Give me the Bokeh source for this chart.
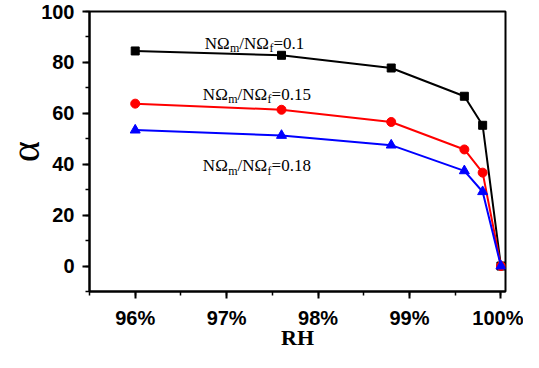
from bokeh.plotting import figure
from bokeh.models import FixedTicker, Range1d, Label
from bokeh.embed import file_html
from bokeh.resources import INLINE

rh = [96.0, 97.6, 98.8, 99.6, 99.8, 100.0]
alpha_01 = [84.5, 82.8, 77.8, 66.7, 55.3, 0.0]
alpha_015 = [63.8, 61.4, 56.6, 45.8, 36.7, 0.0]
alpha_018 = [53.4, 51.3, 47.5, 37.4, 29.2, 0.0]
x_ticks = [96, 97, 98, 99, 100]
x_tick_labels = ["96%", "97%", "98%", "99%", "100%"]
y_ticks = [0, 20, 40, 60, 80, 100]
series_labels = ["0.1", "0.15", "0.18"]
label_pos = [(96.76, 87.5), (96.74, 67.4), (96.74, 39.4)]

p = figure(width=523, height=352, output_backend="svg", toolbar_location=None,
           x_range=Range1d(95.5, 100.05), y_range=Range1d(-10, 100),
           min_border_left=82, min_border_top=11, min_border_right=18, min_border_bottom=40)
p.background_fill_color = "white"
p.border_fill_color = "white"
p.grid.visible = False
p.outline_line_color = "black"
p.outline_line_width = 2

for ax in (p.xaxis[0], p.yaxis[0]):
    ax.axis_line_width = 2
    ax.major_tick_line_width = 2
    ax.minor_tick_line_width = 1.5
    ax.major_tick_out = 7
    ax.major_tick_in = 0
    ax.minor_tick_out = 4
    ax.minor_tick_in = 0
    ax.major_label_text_font = "Liberation Sans"
    ax.major_label_text_font_style = "bold"
    ax.major_label_text_font_size = "20px"
    ax.major_label_text_color = "black"
    ax.axis_label_text_color = "black"

p.xaxis.ticker = FixedTicker(ticks=x_ticks, minor_ticks=[95.5 + 0.5 * i for i in range(10)])
p.xaxis.major_label_overrides = {t: l for t, l in zip(x_ticks, x_tick_labels)}
p.yaxis.ticker = FixedTicker(ticks=y_ticks, minor_ticks=[-10 + 10 * i for i in range(12)])
p.xaxis.major_label_standoff = 8
p.yaxis.major_label_standoff = 8

p.xaxis.axis_label = "RH"
p.xaxis.axis_label_text_font = "Liberation Serif"
p.xaxis.axis_label_text_font_style = "bold"
p.xaxis.axis_label_text_font_size = "22px"
p.xaxis.axis_label_standoff = -7
p.yaxis.axis_label = "α"
p.yaxis.axis_label_text_font = "Liberation Serif"
p.yaxis.axis_label_text_font_style = "normal"
p.yaxis.axis_label_text_font_size = "40px"
p.yaxis.axis_label_standoff = -10

p.line(rh, alpha_01, color="black", line_width=2)
p.scatter(rh, alpha_01, marker="square", size=8, color="black")
p.line(rh, alpha_015, color="#ff0000", line_width=2)
p.scatter(rh, alpha_015, marker="circle", size=9, color="#ff0000")
p.line(rh, alpha_018, color="#0000ff", line_width=2)
p.scatter(rh, alpha_018, marker="triangle", size=10, color="#0000ff")

W = {"N": .722, "Ω": .768, "m": .778, "/": .278, "f": .333, "=": .564, "0": .5, ".": .25,
     "1": .5, "5": .5, "8": .5}
def tw(s, fs):
    return sum(W[c] for c in s) * fs

FS, SS = 17, 12
for (lx, ly), val in zip(label_pos, series_labels):
    pieces = [("NΩ", FS, 0), ("m", SS, -5), ("/NΩ", FS, 0), ("f", SS, -5), ("=" + val, FS, 0)]
    off = 0
    for txt, fs, dy in pieces:
        p.add_layout(Label(x=lx, y=ly, x_offset=off, y_offset=dy, text=txt,
                           text_font="Liberation Serif", text_font_size=f"{fs}px",
                           text_baseline="alphabetic", text_align="left", text_color="black"))
        off += tw(txt, fs)

open("out.html", "w").write(file_html(p, INLINE))
